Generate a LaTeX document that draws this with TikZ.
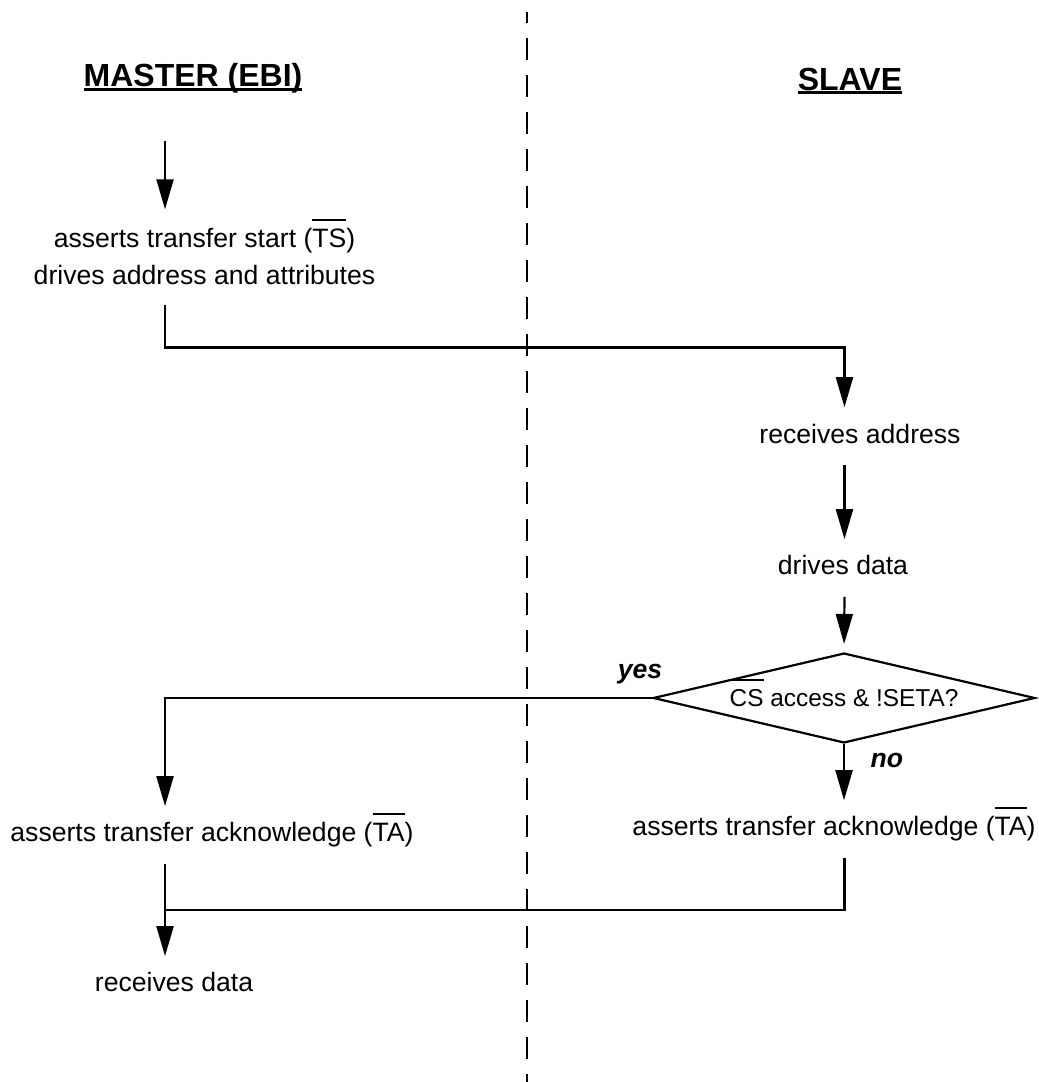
\documentclass[tikz,border=0pt]{standalone}
\usepackage{fontspec}
\setmainfont{Liberation Sans}
\usetikzlibrary{arrows.meta, positioning, calc, shapes.geometric}

\newsavebox{\sigbox}
% active-low signal: bar over the letters
\newcommand{\sigbar}[1]{\sbox{\sigbox}{#1}%
  \rlap{\smash{\rule[\dimexpr\fontcharht\font`T+4.4pt\relax]{\wd\sigbox}{0.9pt}}}\usebox{\sigbox}}
% underlined column heading
\newcommand{\headline}[1]{\sbox{\sigbox}{#1}%
  \rlap{\rule[-2.2pt]{\wd\sigbox}{1.5pt}}\usebox{\sigbox}}

\begin{document}
\begin{tikzpicture}[
    flow/.style={line width=1.1pt, -{Triangle[length=15pt, width=8.5pt]}},
    wire/.style={line width=1.1pt},
    divider/.style={line width=1.1pt, dash pattern=on 11pt off 7.5pt, dash phase=5.5pt},
    heading/.style={font=\fontsize{16}{19}\selectfont\bfseries, inner sep=0pt, anchor=base},
    steptext/.style={font=\fontsize{13.3}{18.5}\selectfont, inner xsep=0pt, inner ysep=8pt,
      text height=9.7pt, text depth=2.8pt, anchor=base},
    answer/.style={font=\fontsize{13.3}{16}\selectfont\bfseries\itshape, inner sep=0pt, anchor=base},
    decision/.style={diamond, draw, line width=1.1pt, inner sep=0pt, aspect=4.2,
      minimum width=6.71cm, minimum height=1.58cm, font=\fontsize{12.2}{14}\selectfont}
  ]
  \useasboundingbox (0,0) rectangle (18.258,19.014);

  % master / slave split
  \draw[divider] (9.261,18.803) -- (9.261,0);
  \node[heading] (mhead) at (3.392,17.485) {\headline{MASTER (EBI)}};
  \node[heading] (shead) at (14.937,17.432) {\headline{SLAVE}};

  % the two columns the flow runs down
  \coordinate (mline) at (2.9,0);
  \coordinate (sline) at (14.84,0);
  \coordinate (start) at (2.9,16.536);

  % base of a two-line node sits on its last line
  \node[steptext, text height=, text depth=, inner ysep=9.5pt, align=center] (ts) at (3.594,14.006)
    {asserts transfer start (\sigbar{TS})\\drives address and attributes};
  \node[steptext] (ra) at (15.113,11.229) {receives address};
  \node[steptext] (dd) at (14.814,8.910) {drives data};
  \node[decision] (chk) at (14.832,6.748) {\sigbar{CS} access \& !SETA?};
  \node[answer] (yes) at (11.247,7.099) {yes};
  \node[answer] (no) at (15.587,5.518) {no};
  \node[steptext] (ackm) at (3.725,4.218) {asserts transfer acknowledge (\sigbar{TA})};
  \node[steptext] (acks) at (14.656,4.323) {asserts transfer acknowledge (\sigbar{TA})};
  \node[steptext] (rd) at (3.058,1.582) {receives data};

  \draw[flow] (start) -- (ts.north -| start);
  \draw[flow] (ts.south -| mline) -- ++(0,-0.755) -| (ra.north -| sline);
  \draw[flow] (ra.south -| sline) -- (dd.north -| sline);
  \draw[flow, shorten >=4pt] (dd.south -| sline) -- (chk.north);
  \draw[flow] (chk.west) -| (ackm.north -| mline);
  \draw[flow] (chk.south) -- (acks.north -| chk.south);
  \draw[flow] (ackm.south -| mline) -- (rd.north -| mline);
  \draw[wire] (acks.south -| sline) |- ($(ackm.south -| mline)!.5!(rd.north -| mline)$);
\end{tikzpicture}
\end{document}
